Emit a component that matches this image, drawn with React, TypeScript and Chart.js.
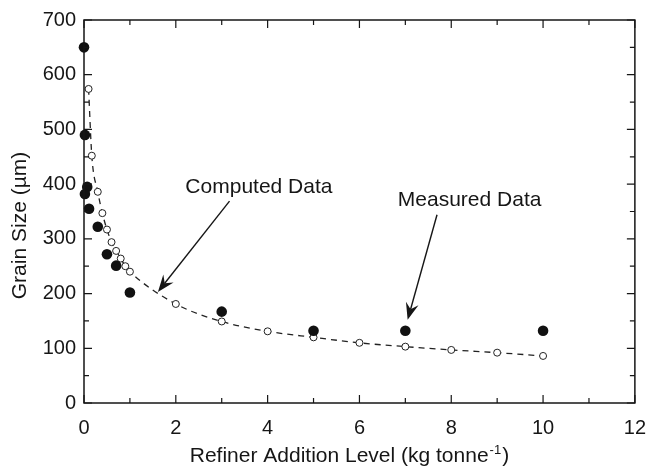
import React, { useEffect, useRef } from "react";
import { Chart, registerables } from "chart.js";

Chart.register(...registerables);

// Measured data (filled circles)
const measuredX = [0, 0.02, 0.07, 0.02, 0.11, 0.3, 0.5, 0.7, 1, 3, 5, 7, 10];
const measuredY = [650, 490, 395, 382, 355, 322, 272, 251, 202, 167, 132, 132, 132];

// Computed data (open circles + dashed curve)
const computedX = [0.1, 0.17, 0.3, 0.4, 0.5, 0.6, 0.7, 0.8, 0.9, 1, 2, 3, 4, 5, 6, 7, 8, 9, 10];
const computedY = [574, 452, 386, 347, 317, 294, 278, 264, 250, 240, 181, 149, 131, 120, 110, 103, 97, 92, 86];

// Axis ticks
const xTicks = [0, 2, 4, 6, 8, 10, 12];
const xMinorTicks = [1, 3, 5, 7, 9, 11];
const yTicks = [0, 100, 200, 300, 400, 500, 600, 700];
const yMinorTicks = [50, 150, 250, 350, 450, 550, 650];

// Titles
const yTitle = "Grain Size (µm)";
const xTitleMain = "Refiner Addition Level (kg tonne";
const xTitleSup = "-1";
const xTitleEnd = ")";

// Annotations (data coordinates)
const annotationText = ["Computed Data", "Measured Data"];
const annotationTextX = [3.81, 8.4];
const annotationTextY = [395, 371];
const arrowFromX = [3.17, 7.69];
const arrowFromY = [369, 344];
const arrowToX = [1.61, 7.05];
const arrowToY = [203, 152];

const FONT = '"Liberation Sans", Arial, Helvetica, sans-serif';
const INK = "#161616";

const framePlugin = {
  id: "frame",
  afterDraw(chart: any) {
    const { ctx, chartArea } = chart;
    const xs = chart.scales.x;
    const ys = chart.scales.y;
    const { left, right, top, bottom } = chartArea;
    ctx.save();
    ctx.strokeStyle = INK;
    ctx.lineWidth = 1.5;
    ctx.strokeRect(left, top, right - left, bottom - top);

    ctx.lineWidth = 1.2;
    const drawX = (v: number, len: number) => {
      const p = xs.getPixelForValue(v);
      ctx.beginPath();
      ctx.moveTo(p, bottom);
      ctx.lineTo(p, bottom - len);
      ctx.moveTo(p, top);
      ctx.lineTo(p, top + len);
      ctx.stroke();
    };
    const drawY = (v: number, len: number) => {
      const p = ys.getPixelForValue(v);
      ctx.beginPath();
      ctx.moveTo(left, p);
      ctx.lineTo(left + len, p);
      ctx.moveTo(right, p);
      ctx.lineTo(right - len, p);
      ctx.stroke();
    };
    xTicks.forEach((v) => drawX(v, 8));
    xMinorTicks.forEach((v) => drawX(v, 5));
    yTicks.forEach((v) => drawY(v, 8));
    yMinorTicks.forEach((v) => drawY(v, 5));

    // annotations
    ctx.fillStyle = INK;
    ctx.font = `21px ${FONT}`;
    ctx.textAlign = "center";
    ctx.textBaseline = "middle";
    annotationText.forEach((t, i) => {
      ctx.fillText(t, xs.getPixelForValue(annotationTextX[i]), ys.getPixelForValue(annotationTextY[i]));
      const x1 = xs.getPixelForValue(arrowFromX[i]);
      const y1 = ys.getPixelForValue(arrowFromY[i]);
      const x2 = xs.getPixelForValue(arrowToX[i]);
      const y2 = ys.getPixelForValue(arrowToY[i]);
      const a = Math.atan2(y2 - y1, x2 - x1);
      const dx = Math.cos(a), dy = Math.sin(a);
      const px = -dy, py = dx;
      const L = 17, W = 6.5, N = 11;
      ctx.lineWidth = 1.4;
      ctx.beginPath();
      ctx.moveTo(x1, y1);
      ctx.lineTo(x2 - dx * N, y2 - dy * N);
      ctx.stroke();
      ctx.beginPath();
      ctx.moveTo(x2, y2);
      ctx.lineTo(x2 - dx * L + px * W, y2 - dy * L + py * W);
      ctx.lineTo(x2 - dx * N, y2 - dy * N);
      ctx.lineTo(x2 - dx * L - px * W, y2 - dy * L - py * W);
      ctx.closePath();
      ctx.fill();
    });

    // y title
    ctx.save();
    ctx.translate(20, (top + bottom) / 2 + 14);
    ctx.rotate(-Math.PI / 2);
    ctx.font = `21px ${FONT}`;
    ctx.textAlign = "center";
    ctx.textBaseline = "middle";
    ctx.fillText(yTitle, 0, 0);
    ctx.restore();

    // x title with superscript
    ctx.textAlign = "left";
    ctx.textBaseline = "alphabetic";
    ctx.font = `21px ${FONT}`;
    const w1 = ctx.measureText(xTitleMain).width;
    const w3 = ctx.measureText(xTitleEnd).width;
    ctx.font = `13px ${FONT}`;
    const w2 = ctx.measureText(xTitleSup).width;
    const total = w1 + w2 + w3 + 2;
    const cx = (left + right) / 2 - 10;
    const base = 462;
    let x0 = cx - total / 2;
    ctx.font = `21px ${FONT}`;
    ctx.fillText(xTitleMain, x0, base);
    x0 += w1 + 1;
    ctx.font = `13px ${FONT}`;
    ctx.fillText(xTitleSup, x0, base - 8);
    x0 += w2 + 1;
    ctx.font = `21px ${FONT}`;
    ctx.fillText(xTitleEnd, x0, base);
    ctx.restore();
  },
};

export default function App() {
  const ref = useRef<HTMLCanvasElement | null>(null);

  useEffect(() => {
    document.body.style.margin = "0";
    const canvas = ref.current;
    if (!canvas) return;
    const chart = new Chart(canvas, {
      type: "scatter",
      data: {
        datasets: [
          {
            label: "Measured Data",
            data: measuredX.map((x, i) => ({ x, y: measuredY[i] })),
            showLine: false,
            clip: false,
            pointRadius: 5.3,
            pointBackgroundColor: "#111",
            pointBorderColor: "#111",
            pointBorderWidth: 0,
          },
          {
            label: "Computed Data",
            data: computedX.map((x, i) => ({ x, y: computedY[i] })),
            showLine: true,
            clip: false,
            borderColor: "#222",
            borderWidth: 1.3,
            borderDash: [6, 5],
            cubicInterpolationMode: "monotone",
            pointRadius: 3.5,
            pointBackgroundColor: "#fff",
            pointBorderColor: "#222",
            pointBorderWidth: 1,
          },
        ],
      } as any,
      options: {
        animation: false,
        responsive: false,
        devicePixelRatio: 1,
        layout: { padding: { top: 20, right: 15, left: 0, bottom: 0 } },
        plugins: { legend: { display: false }, tooltip: { enabled: false } },
        scales: {
          x: {
            type: "linear",
            min: 0,
            max: 12,
            afterFit: (s: any) => {
              s.height = 65;
            },
            afterBuildTicks: (s: any) => {
              s.ticks = xTicks.map((v) => ({ value: v }));
            },
            ticks: { color: INK, font: { family: FONT, size: 20 }, padding: 13, maxRotation: 0 },
            grid: { display: false, drawTicks: false },
            border: { display: false },
          },
          y: {
            type: "linear",
            min: 0,
            max: 700,
            afterFit: (s: any) => {
              s.width = 84;
            },
            afterBuildTicks: (s: any) => {
              s.ticks = yTicks.map((v) => ({ value: v }));
            },
            ticks: { color: INK, font: { family: FONT, size: 20 }, padding: 8 },
            grid: { display: false, drawTicks: false },
            border: { display: false },
          },
        },
      } as any,
      plugins: [framePlugin],
    });
    return () => chart.destroy();
  }, []);

  return (
    <div style={{ width: 659, height: 468, background: "#fff" }}>
      <canvas ref={ref} width={659} height={468} />
    </div>
  );
}
